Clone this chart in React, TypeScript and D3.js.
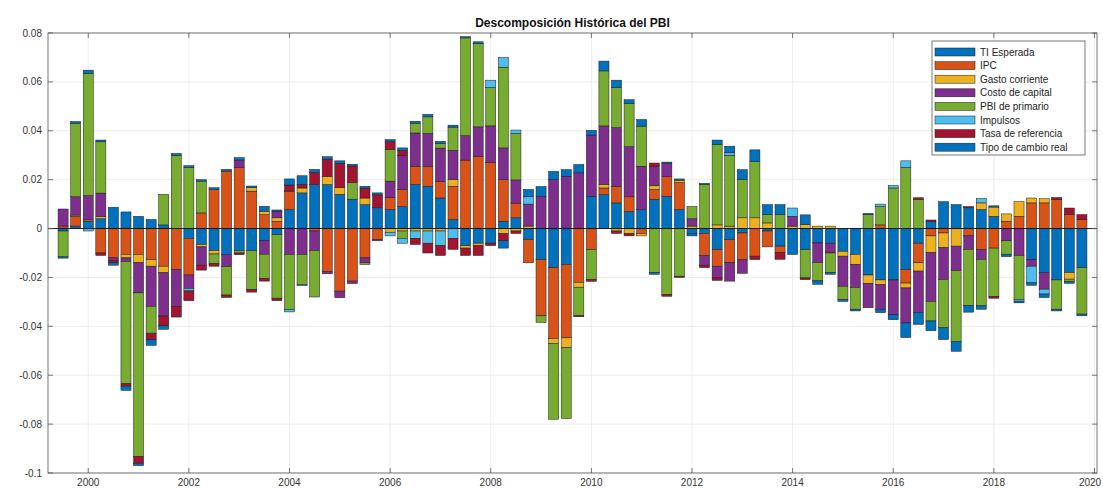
import React, { useEffect, useRef } from "react";
import * as d3 from "d3";

// trimestres (1999T3 - 2019T4)
const quarters = [
  "1999T3", "1999T4",
  "2000T1", "2000T2", "2000T3", "2000T4", "2001T1", "2001T2", "2001T3", "2001T4",
  "2002T1", "2002T2", "2002T3", "2002T4", "2003T1", "2003T2", "2003T3", "2003T4",
  "2004T1", "2004T2", "2004T3", "2004T4", "2005T1", "2005T2", "2005T3", "2005T4",
  "2006T1", "2006T2", "2006T3", "2006T4", "2007T1", "2007T2", "2007T3", "2007T4",
  "2008T1", "2008T2", "2008T3", "2008T4", "2009T1", "2009T2", "2009T3", "2009T4",
  "2010T1", "2010T2", "2010T3", "2010T4", "2011T1", "2011T2", "2011T3", "2011T4",
  "2012T1", "2012T2", "2012T3", "2012T4", "2013T1", "2013T2", "2013T3", "2013T4",
  "2014T1", "2014T2", "2014T3", "2014T4", "2015T1", "2015T2", "2015T3", "2015T4",
  "2016T1", "2016T2", "2016T3", "2016T4", "2017T1", "2017T2", "2017T3", "2017T4",
  "2018T1", "2018T2", "2018T3", "2018T4", "2019T1", "2019T2", "2019T3", "2019T4",
];

const tiEsperada = [
  -0.001, 0.001, 0.003, 0.004, 0.0087, 0.0068, 0.005, 0.0037, 0.0015, 0,
  -0.004, -0.0065, -0.009, -0.0106, -0.009, -0.009, -0.005, -0.0025, 0.0078, 0.0146,
  0.018, 0.018, 0.014, 0.012, 0.0098, 0.0085, 0.0078, 0.009, 0.018, 0.0173,
  0.0125, 0.0037, -0.007, -0.006, -0.006, 0.003, 0.0044, -0.0045, -0.0127, -0.016,
  -0.0147, 0, 0.0132, 0.0139, 0.0105, 0.007, 0.0078, 0.012, 0.0132, 0.0078,
  -0.002, -0.002, -0.0086, -0.0045, -0.0018, 0, -0.001, -0.0072, -0.0106, -0.0086,
  -0.0059, -0.006, -0.0093, -0.0106, -0.019, -0.021, -0.021, -0.0168, -0.006, 0.003,
  0.011, 0.0098, 0.0085, 0.0078, 0.005, 0, 0, -0.0127, -0.018, -0.021,
  -0.018, -0.016,
];
const ipc = [
  0.001, 0.004, 0, -0.01, -0.012, -0.0106, -0.0106, -0.0127, -0.0154, -0.0168,
  -0.015, 0.0064, 0.016, 0.0235, 0.025, 0.0153, 0.0057, 0.003, 0.0075, 0,
  -0.001, -0.0175, -0.0256, -0.0215, -0.012, -0.0045, 0.0048, 0.007, 0.0075, 0.008,
  0.0068, 0.0136, 0.028, 0.0296, 0.027, 0.017, 0.006, -0.0095, -0.023, -0.029,
  -0.03, -0.022, -0.0086, 0.0027, 0.0068, 0.006, -0.002, 0.004, 0.008, 0.011,
  0, -0.009, -0.0068, -0.0095, -0.011, -0.0113, -0.0065, -0.0027, 0, 0,
  0, 0, 0, 0, 0, 0.0015, 0, -0.0055, -0.008, -0.003,
  -0.0018, 0, -0.003, -0.0086, -0.008, 0.003, 0.005, 0.0105, 0.0105, 0.012,
  0.0057, 0.0037,
];
const gastoCorriente = [
  0, 0.0005, 0.0005, 0.001, 0, -0.0014, -0.0034, -0.0027, -0.0027, 0,
  0, -0.001, -0.0014, 0, 0, 0.0014, 0.0014, 0.0014, 0, 0.002,
  0, 0.0034, 0.0027, 0, 0.0027, 0, -0.0015, -0.001, -0.001, -0.001,
  -0.001, 0.0027, -0.001, -0.001, 0, -0.002, -0.001, 0.001, 0, -0.002,
  -0.004, -0.002, 0, 0.0014, -0.001, -0.002, -0.001, 0.0015, 0, 0.001,
  0.001, 0, 0.0015, 0.001, 0.0044, 0.0044, 0.0023, 0, 0.001, 0.0016,
  0.001, 0.001, -0.002, -0.004, -0.0034, -0.002, 0, -0.002, -0.0034, -0.0068,
  -0.006, -0.0072, 0, 0.0027, 0.0038, 0.003, 0.006, 0.002, 0.0017, 0,
  -0.0027, 0,
];
const costoCapital = [
  0.007, 0.0075, 0.01, 0.0095, -0.001, -0.0015, -0.0123, -0.0164, -0.0177, -0.015,
  -0.0055, -0.0075, 0, -0.005, 0.003, 0, -0.0055, 0.0027, -0.0106, -0.0106,
  -0.008, -0.001, -0.0027, -0.001, -0.002, -0.0005, 0.0068, 0.014, 0.0136, 0.0136,
  0.0136, 0.012, 0.01, 0.012, 0.015, 0.013, 0.0095, 0.009, 0.0132, 0.02,
  0.0214, 0.0228, 0.025, 0.024, 0.024, 0.0205, 0.0177, 0.008, 0.0055, 0,
  0.003, -0.004, -0.0048, -0.0075, -0.0055, 0, 0, 0, 0.004, 0,
  -0.008, -0.004, -0.0123, -0.0095, -0.01, -0.01, -0.0143, -0.0143, -0.017, -0.02,
  -0.013, -0.01, -0.0055, -0.004, 0, -0.005, -0.011, -0.0027, -0.0068, 0,
  0, 0,
];
const pbiPrimario = [
  -0.0106, 0.03, 0.05, 0.021, 0, -0.05, -0.067, -0.011, 0.0125, 0.03,
  0.025, 0.013, -0.004, -0.0116, -0.001, -0.016, -0.01, -0.026, -0.0225, -0.0123,
  -0.019, 0, 0, 0.0068, -0.0007, 0, 0.013, -0.003, 0.004, 0.0068,
  0.002, 0.0095, 0.04, 0.034, 0.0157, 0.033, 0.019, 0, -0.0027, -0.031,
  -0.029, -0.0116, -0.0123, 0.0225, 0.0164, 0.0177, 0.0164, -0.018, -0.027, -0.0195,
  0.005, 0.018, 0.033, 0.029, 0.0157, 0.023, 0.0034, 0.0057, 0, -0.0116,
  -0.0075, -0.008, -0.0055, -0.0089, 0.0057, 0.0075, 0.0166, 0.025, 0.0119, -0.008,
  -0.0198, -0.029, -0.023, -0.019, -0.0198, -0.0055, -0.018, 0, 0, -0.012,
  -0.001, -0.019,
];
const impulsos = [
  0, 0, -0.001, 0, 0, 0, 0, 0, 0, 0,
  -0.001, 0, 0, 0, 0, 0, 0, 0, -0.001, -0.0005,
  0, 0, 0, 0, 0, 0, -0.0015, -0.002, -0.003, -0.005,
  -0.006, -0.004, 0, 0, 0.003, 0.004, 0.0014, 0.003, 0, 0,
  0, 0, 0, 0, 0, 0, 0, 0, 0, 0,
  0, 0, 0, 0.001, 0, 0, 0, 0, 0.0034, 0,
  0, 0, 0, 0, 0, 0.001, 0.001, 0.0027, 0, 0,
  0, 0, 0, 0.0018, 0, 0, -0.0007, -0.0068, -0.002, 0,
  0, 0,
];
const tasaReferencia = [
  0, 0, 0, -0.001, -0.001, -0.001, -0.0027, -0.0027, -0.004, -0.0044,
  -0.004, -0.002, -0.001, -0.001, -0.0007, -0.001, -0.001, -0.001, 0.0025, 0.0015,
  0.005, 0.007, 0.01, 0.0068, 0.004, 0.0053, 0.0032, 0.002, -0.0025, -0.004,
  -0.004, -0.0045, -0.003, -0.004, -0.001, -0.003, -0.001, 0, 0, 0,
  0, -0.0005, -0.0007, 0, -0.001, -0.001, 0, 0.0013, -0.0007, -0.0005,
  0, -0.001, -0.001, 0, 0, -0.0014, 0, -0.0027, 0, -0.0007,
  0, 0, 0, 0, 0, 0, 0, 0, 0.0007, 0.0005,
  0, 0, 0.0005, 0, -0.0007, 0, 0, 0, 0, 0.0007,
  0.0027, 0.002,
];
const tipoCambioReal = [
  -0.0005, 0.0008, 0.0013, 0.0007, -0.001, -0.0017, -0.001, -0.0023, -0.0014, 0.0007,
  0.0007, 0.0006, 0.0007, 0.0007, 0.001, 0.0007, 0.002, 0.0005, 0.0025, 0.0035,
  0.0012, 0.001, 0.001, 0.0007, 0.0008, 0.0008, 0.0008, 0.001, 0.0008, 0.001,
  0.0008, 0.0008, 0.0005, 0.0008, 0, -0.003, 0, 0.003, 0.004, 0.0034,
  0.0027, 0.0034, 0.002, 0.004, 0.003, 0.0015, 0.0027, -0.0007, 0.0005, 0.0005,
  -0.001, 0.0005, 0.0017, 0.0027, 0.004, 0.0048, 0.0041, 0.0041, 0, 0.004,
  -0.0014, -0.0007, -0.0007, -0.0007, 0.0005, -0.0014, -0.002, -0.006, -0.0048, -0.004,
  -0.0048, -0.004, -0.0027, -0.0014, 0.0005, -0.001, -0.0007, -0.001, -0.0014, -0.0007,
  -0.0007, -0.0007,
];

const seriesNames = [
  "TI Esperada",
  "IPC",
  "Gasto corriente",
  "Costo de capital",
  "PBI de primario",
  "Impulsos",
  "Tasa de referencia",
  "Tipo de cambio real",
];
const seriesColors = [
  "#0072BD", "#D95319", "#EDB120", "#7E2F8E",
  "#77AC30", "#4DBEEE", "#A2142F", "#0072BD",
];
const yTicks = [0.08, 0.06, 0.04, 0.02, 0, -0.02, -0.04, -0.06, -0.08, -0.1];
const xTicks = [2000, 2002, 2004, 2006, 2008, 2010, 2012, 2014, 2016, 2018, 2020];

const W = 1103;
const H = 488;

export default function App() {
  const ref = useRef<SVGSVGElement>(null);

  useEffect(() => {
    const svg = d3.select(ref.current);
    svg.selectAll("*").remove();

    const margin = { top: 33, right: 6, bottom: 15, left: 48 };
    const x0 = margin.left, x1 = W - margin.right;
    const y0 = margin.top, y1 = H - margin.bottom;

    const allSeries = [tiEsperada, ipc, gastoCorriente, costoCapital, pbiPrimario, impulsos, tasaReferencia, tipoCambioReal];
    const keys = seriesNames;

    // tabla para d3.stack
    const table = quarters.map((q, i) => {
      const row: any = { t: +q.slice(0, 4) + (+q.slice(5) - 1) * 0.25 };
      keys.forEach((k, j) => { row[k] = allSeries[j][i]; });
      return row;
    });

    const x = d3.scaleLinear().domain([1999.2, 2020.05]).range([x0, x1]);
    const y = d3.scaleLinear().domain([-0.1, 0.08]).range([y1, y0]);

    const font = "'Liberation Sans', Arial, Helvetica, sans-serif";

    svg.append("rect").attr("width", W).attr("height", H).attr("fill", "#fff");

    // grid
    const grid = svg.append("g").attr("stroke", "#e8e8e8").attr("stroke-width", 0.8);
    grid.selectAll("line.h").data(yTicks).enter().append("line")
      .attr("x1", x0).attr("x2", x1)
      .attr("y1", d => y(d)).attr("y2", d => y(d));
    grid.selectAll("line.v").data(xTicks).enter().append("line")
      .attr("y1", y0).attr("y2", y1)
      .attr("x1", d => x(d)).attr("x2", d => x(d));

    const stacked = d3.stack<any>().keys(keys).offset(d3.stackOffsetDiverging)(table);
    const bw = (x(2000.25) - x(2000)) * 0.8;

    const bars = svg.append("g");
    stacked.forEach((layer, j) => {
      bars.append("g")
        .attr("fill", seriesColors[j])
        .attr("stroke", "#1a1a1a")
        .attr("stroke-width", 0.5)
        .selectAll("rect")
        .data(layer.filter(d => d[1] - d[0] !== 0))
        .enter()
        .append("rect")
        .attr("x", d => x(d.data.t) - bw / 2)
        .attr("width", bw)
        .attr("y", d => y(Math.max(d[0], d[1])))
        .attr("height", d => Math.abs(y(d[0]) - y(d[1])));
    });

    // baseline
    svg.append("line")
      .attr("x1", x0).attr("x2", x1)
      .attr("y1", y(0)).attr("y2", y(0))
      .attr("stroke", "#111").attr("stroke-width", 0.9);

    // axes box
    svg.append("rect")
      .attr("x", x0).attr("y", y0)
      .attr("width", x1 - x0).attr("height", y1 - y0)
      .attr("fill", "none").attr("stroke", "#555").attr("stroke-width", 0.8);

    const ticks = svg.append("g").attr("stroke", "#555").attr("stroke-width", 0.8);
    yTicks.forEach(v => {
      ticks.append("line").attr("x1", x0).attr("x2", x0 + 5).attr("y1", y(v)).attr("y2", y(v));
      ticks.append("line").attr("x1", x1).attr("x2", x1 - 5).attr("y1", y(v)).attr("y2", y(v));
    });
    xTicks.forEach(v => {
      ticks.append("line").attr("y1", y1).attr("y2", y1 - 5).attr("x1", x(v)).attr("x2", x(v));
      ticks.append("line").attr("y1", y0).attr("y2", y0 + 5).attr("x1", x(v)).attr("x2", x(v));
    });

    svg.append("g").selectAll("text").data(yTicks).enter().append("text")
      .attr("x", x0 - 6).attr("y", d => y(d)).attr("dy", "0.35em")
      .attr("text-anchor", "end")
      .style("font-family", font).style("font-size", "10px").attr("fill", "#333")
      .text(d => (d === 0 ? "0" : String(d)));

    // la última etiqueta se alinea al borde para que no se corte
    svg.append("g").selectAll("text").data(xTicks).enter().append("text")
      .attr("x", d => Math.min(x(d), W - 13))
      .attr("y", y1 + 13)
      .attr("text-anchor", "middle")
      .style("font-family", font).style("font-size", "10px").attr("fill", "#333")
      .text(d => String(d));

    // title
    svg.append("text")
      .attr("x", (x0 + x1) / 2).attr("y", 27)
      .attr("text-anchor", "middle")
      .style("font-family", font).style("font-size", "12px").style("font-weight", "bold")
      .attr("fill", "#111")
      .text("Descomposición Histórica del PBI");

    // legend
    const lg = svg.append("g").attr("transform", "translate(932,41)");
    lg.append("rect").attr("width", 153).attr("height", 114)
      .attr("fill", "#fff").attr("stroke", "#555").attr("stroke-width", 0.8);
    seriesNames.forEach((name, j) => {
      const cy = 11 + j * 13.6;
      lg.append("rect").attr("x", 3).attr("y", cy - 4).attr("width", 40).attr("height", 8)
        .attr("fill", seriesColors[j]).attr("stroke", "#1a1a1a").attr("stroke-width", 0.5);
      lg.append("text").attr("x", 48).attr("y", cy).attr("dy", "0.35em")
        .style("font-family", font).style("font-size", "10px").attr("fill", "#222")
        .text(name);
    });
  }, []);

  return (
    <svg
      ref={ref}
      width={W}
      height={H}
      style={{ position: "absolute", left: 0, top: 0, display: "block" }}
    />
  );
}
